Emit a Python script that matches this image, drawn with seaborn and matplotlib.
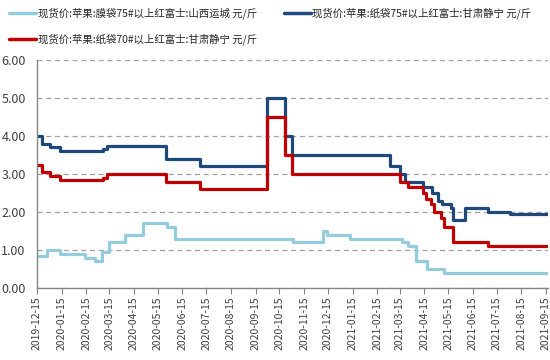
import matplotlib
matplotlib.use("Agg")
import matplotlib.pyplot as plt
import matplotlib.dates as mdates
from matplotlib.lines import Line2D
import seaborn as sns
import pandas as pd

END_DATE = "2021-09-18"

s1_name = "现货价:苹果:膜袋75#以上红富士:山西运城 元/斤"
s1_dates = ["2019-12-15", "2019-12-28", "2020-01-13", "2020-02-13", "2020-02-26",
            "2020-03-06", "2020-03-15", "2020-04-04", "2020-04-26", "2020-05-27",
            "2020-06-06", "2020-11-01", "2020-12-09", "2020-12-14", "2021-01-12",
            "2021-03-18", "2021-03-26", "2021-04-04", "2021-04-19", "2021-05-10"]
s1_values = [0.85, 1.0, 0.9, 0.8, 0.7,
             0.95, 1.2, 1.4, 1.7, 1.6,
             1.3, 1.2, 1.5, 1.4, 1.3,
             1.2, 1.1, 0.7, 0.5, 0.4]

s2_name = "现货价:苹果:纸袋75#以上红富士:甘肃静宁 元/斤"
s2_dates = ["2019-12-15", "2019-12-22", "2019-12-31", "2020-01-13", "2020-03-07",
            "2020-03-12", "2020-05-25", "2020-07-07", "2020-09-29", "2020-10-22",
            "2020-10-31", "2021-03-03", "2021-03-16", "2021-03-22", "2021-04-14",
            "2021-04-25", "2021-05-02", "2021-05-07", "2021-05-18", "2021-05-21",
            "2021-06-05", "2021-07-04", "2021-08-01"]
s2_values = [4.0, 3.8, 3.7, 3.6, 3.65,
             3.75, 3.4, 3.2, 5.0, 4.0,
             3.5, 3.2, 3.0, 2.8, 2.65,
             2.5, 2.3, 2.2, 2.1, 1.8,
             2.1, 2.0, 1.95]

s3_name = "现货价:苹果:纸袋70#以上红富士:甘肃静宁 元/斤"
s3_dates = ["2019-12-15", "2019-12-22", "2019-12-31", "2020-01-13", "2020-03-07",
            "2020-03-12", "2020-05-25", "2020-07-07", "2020-09-29", "2020-10-22",
            "2020-10-31", "2021-03-15", "2021-03-25", "2021-04-13", "2021-04-17",
            "2021-04-23", "2021-04-27", "2021-05-06", "2021-05-10", "2021-05-21",
            "2021-07-04"]
s3_values = [3.25, 3.05, 2.95, 2.85, 2.9,
             3.0, 2.8, 2.6, 4.5, 3.5,
             3.0, 2.8, 2.65, 2.5, 2.35,
             2.2, 2.0, 1.85, 1.6, 1.2,
             1.1]

y_ticks = [0, 1, 2, 3, 4, 5, 6]

colors = {s1_name: "#93CDDD", s2_name: "#1F497D", s3_name: "#C00000"}

frames = []
for name, d, v in [(s1_name, s1_dates, s1_values),
                   (s2_name, s2_dates, s2_values),
                   (s3_name, s3_dates, s3_values)]:
    dd = list(d) + [END_DATE]
    vv = list(v) + [v[-1]]
    frames.append(pd.DataFrame({"date": pd.to_datetime(dd), "value": vv, "series": name}))
df = pd.concat(frames, ignore_index=True)

sns.set_theme(style="white")
plt.rcParams["font.family"] = ["Noto Sans CJK SC", "DejaVu Sans"]

fig = plt.figure(figsize=(5.5, 3.6), dpi=100)
ax = fig.add_axes([0.067, 0.2, 0.93, 0.633])

sns.lineplot(data=df, x="date", y="value", hue="series", palette=colors,
             hue_order=[s1_name, s2_name, s3_name],
             drawstyle="steps-post", linewidth=2.3, ax=ax, legend=False,
             estimator=None, sort=False)

ax.set_xlim(pd.Timestamp("2019-12-15"), pd.Timestamp(END_DATE))
ax.set_ylim(0, 6)
ax.set_yticks(y_ticks)
ax.set_yticklabels([f"{t:.2f}" for t in y_ticks], fontsize=9, color="#404040")
ax.yaxis.grid(True, linestyle=(0, (4, 3)), color="#A0A0A0", linewidth=0.9)
ax.set_axisbelow(True)

ax.xaxis.set_major_locator(mdates.MonthLocator(bymonthday=15))
ax.xaxis.set_major_formatter(mdates.DateFormatter("%Y-%m-%d"))
plt.setp(ax.get_xticklabels(), rotation=90, fontsize=7.5, color="#404040")
ax.tick_params(axis="x", which="major", direction="out", length=4, width=0.8,
               color="#808080", bottom=True, pad=2)
ax.tick_params(axis="y", length=0, pad=8)
ax.set_xlabel("")
ax.set_ylabel("")

for side in ["top", "right"]:
    ax.spines[side].set_visible(False)
for side in ["left", "bottom"]:
    ax.spines[side].set_color("#868686")
    ax.spines[side].set_linewidth(1.0)

h1 = Line2D([], [], color=colors[s1_name], linewidth=2.5)
h2 = Line2D([], [], color=colors[s2_name], linewidth=2.5)
h3 = Line2D([], [], color=colors[s3_name], linewidth=2.5)
fig.legend([h1, h3, h2], [s1_name, s3_name, s2_name], ncol=2,
           loc="upper left", bbox_to_anchor=(0.005, 0.996), frameon=False,
           fontsize=7.5, handlelength=2.6, handletextpad=0.15,
           columnspacing=2.6, labelspacing=1.38, borderaxespad=0.2)

fig.savefig("out.png", dpi=100)
